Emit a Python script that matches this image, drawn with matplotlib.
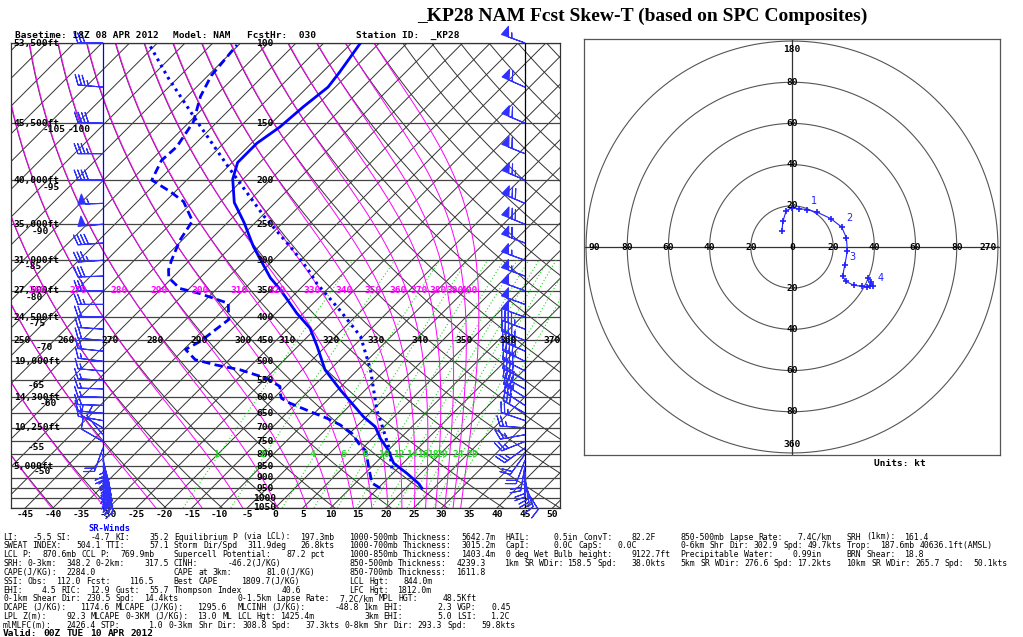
import re
import numpy as np
import matplotlib.pyplot as plt
from matplotlib.ticker import NullLocator

W, H = 1023, 637
fig = plt.figure(figsize=(W / 100, H / 100), dpi=100)

# ---- data ----
temp_p = [950, 927, 881, 837, 780, 738, 696, 662, 578, 522, 464, 423, 392, 348, 328,
          280, 248, 224, 199, 183, 175, 166, 153, 138, 125, 116, 100]
temp_t = [22.9, 21.4, 17.5, 13.3, 9.7, 6.4, 3.4, -0.5, -9.5, -15.9, -21.5, -26.1, -31.2,
          -38.4, -42.3, -51.0, -57.0, -62.4, -66.9, -69.0, -69.0, -69.0, -67.8, -67.2,
          -66.3, -66.9, -68.4]

dew_p = [950, 926, 866, 787, 757, 720, 690, 667, 645, 618, 603, 587, 568, 545, 522, 509,
         496, 471, 452, 405, 373, 355, 346, 328, 315, 300, 271, 246, 223, 212, 200, 181,
         169, 149, 131, 118, 101]
dew_t = [15.4, 13.0, 10.1, 6.1, 3.4, 0.4, -3.2, -6.8, -11.0, -16.2, -18.6, -19.8, -21.0,
         -24.9, -31.2, -36.6, -41.1, -44.7, -43.5, -42.3, -45.3, -52.2, -56.7, -60.6,
         -62.1, -63.3, -65.4, -66.6, -71.7, -75.9, -81.3, -83.1, -82.8, -84.3, -87.6,
         -89.4, -90.3]

parcel_p = [859, 780, 708, 640, 522, 441, 386, 337, 315, 285, 240, 188, 148, 119, 100]
parcel_t = [13.9, 10.0, 5.5, 0.7, -7.7, -15.5, -24.0, -33.0, -36.9, -43.2, -54.6, -69.6,
            -84.0, -96.9, -106.6]

wind_p = [950, 925, 900, 875, 850, 825, 800, 775, 750, 725, 700, 675, 650, 625, 600, 575,
          550, 525, 500, 475, 450, 425, 400, 375, 350, 325, 300, 275, 250, 225, 200, 175,
          150, 125, 100]
wind_dir = [148, 161, 171, 180, 190, 201, 216, 234, 248, 260, 274, 289, 300, 303, 302, 299,
            298, 297, 296, 294, 292, 291, 290, 290, 290, 290, 290, 291, 292, 293, 293, 292,
            293, 294, 290]
wind_spd = [9, 13, 18, 19, 19, 19, 21, 23, 26, 27, 27, 27, 28, 31, 35, 39, 41, 42, 44, 44,
            45, 46, 48, 50, 52, 55, 57, 62, 68, 72, 65, 58, 62, 60, 55]
sr_dir = [155, 157, 158, 160, 162, 165, 175, 200, 300, 320, 300, 280, 275, 272, 272, 272,
          273, 275, 277, 276, 275, 274, 272, 270, 270, 268, 266, 266, 265, 268, 270, 270,
          272, 275, 270]
sr_spd = [40, 39, 38, 36, 33, 30, 25, 18, 10, 12, 12, 15, 15, 16, 17, 17, 17, 17, 17, 18,
          18, 20, 22, 25, 28, 32, 35, 42, 52, 55, 40, 35, 38, 35, 30]

hodo_u = [-4.9, -4.4, -2.8, 0.0, 3.4, 7.1, 12.2, 18.8, 24.1, 26.4, 26.9, 25.6, 24.6, 26.1,
          30.0, 34.2, 36.5, 38.1, 39.4, 38.5, 37.1]
hodo_v = [7.8, 12.5, 17.7, 19.0, 18.6, 18.2, 16.9, 13.8, 9.7, 4.5, -1.9, -8.9, -14.1, -16.7,
          -18.6, -19.1, -19.6, -19.1, -19.0, -17.0, -14.9]
hodo_km = {5: '1', 8: '2', 11: '3', 18: '4'}

theta_lines = list(range(200, 480, 10))
theta_labels = list(range(250, 380, 10))
thetae_lines = list(range(220, 410, 10))
thetae_labels = list(range(250, 410, 10))
mix_lines = [1, 2, 4, 6, 8, 10, 12, 14, 16, 18, 20, 24, 28]

height_lbl = [(100, '53,500ft'), (150, '45,500ft'), (200, '40,000ft'), (250, '35,000ft'),
              (300, '31,000ft'), (350, '27,500ft'), (400, '24,500ft'), (500, '19,000ft'),
              (600, '14,300ft'), (700, '10,250ft'), (850, '5,000ft')]
iso_lbl = [('-105', 54, 130), ('-100', 79, 130), ('-95', 51, 187), ('-90', 40, 231),
           ('-85', 33, 266), ('-80', 34, 297), ('-75', 37, 323), ('-70', 44, 347),
           ('-65', 36, 386), ('-60', 48, 403), ('-55', 36, 447), ('-50', 42, 472)]

# ---- skew-T geometry ----
P_BOT, P_TOP = 1050.0, 100.0
T_LEFT, T_RIGHT = -47.57, 51.35
SKEW = 35.64


def skew(t, p):
    return np.asarray(t, float) + SKEW * np.log(P_BOT / np.asarray(p, float))


def es(tc):
    return 6.112 * np.exp(17.67 * tc / (tc + 243.5))


def theta_e_sat(tc, p):
    tk = tc + 273.15
    e = np.minimum(es(tc), 0.5 * p)
    r = 622.0 * e / (p - e)
    return tk * (1000.0 / p) ** (0.2854 * (1 - 0.28e-3 * r)) * \
        np.exp((3.376 / tk - 0.00254) * r * (1 + 0.81e-3 * r))


def moist_t(the, p):
    lo = np.full_like(p, -170.0)
    hi = np.full_like(p, 60.0)
    for _ in range(60):
        mid = 0.5 * (lo + hi)
        up = theta_e_sat(mid, p) > the
        hi = np.where(up, mid, hi)
        lo = np.where(up, lo, mid)
    return 0.5 * (lo + hi)


def mix_td(w, p):
    e = w * p / (622.0 + w)
    a = np.log(e / 6.112)
    return 243.5 * a / (17.67 - a)


ax = fig.add_axes([11 / W, 1 - 508 / H, 549 / W, 465 / H])
ax.set_yscale('log')
ax.set_ylim(P_BOT, P_TOP)
ax.set_xlim(T_LEFT, T_RIGHT)
ax.yaxis.set_major_locator(NullLocator())
ax.yaxis.set_minor_locator(NullLocator())
for s in ax.spines.values():
    s.set_linewidth(0.9)
    s.set_color('#333333')

pp = np.geomspace(P_BOT, P_TOP, 300)
gk = dict(lw=0.7, color='#333333', zorder=1)
for t in range(-160, 55, 5):
    ax.plot(skew([t, t], [P_BOT, P_TOP]), [P_BOT, P_TOP], **gk)
for th in theta_lines:
    ax.plot(skew(th * (pp / 1000.0) ** 0.2857 - 273.15, pp), pp, **gk)
for the in thetae_lines:
    ax.plot(skew(moist_t(the, pp), pp), pp, color='#ff00ff', lw=0.7, zorder=2)
pm = np.geomspace(P_BOT, 300, 100)
for w in mix_lines:
    ax.plot(skew(mix_td(w, pm), pm), pm, color='#22dd22', lw=0.8,
            ls=(0, (1, 2)), zorder=2)
for p in range(100, 1051, 50):
    ax.axhline(p, color='#444444', lw=0.9, zorder=1)

ax.axvline(45.04, color='k', lw=0.9, zorder=3)
ax.plot([-31.0, -31.0], [P_BOT * 1.005, P_TOP], color='#0000ff', lw=0.9,
        clip_on=False, zorder=3)

# profiles
ax.plot(skew(temp_t, temp_p), temp_p, color='#0000ff', lw=2.0, zorder=5)
ax.plot(skew(dew_t, dew_p), dew_p, color='#0000ff', lw=2.0, ls=(0, (3, 1.6)), zorder=5)
ax.plot(skew(parcel_t, parcel_p), parcel_p, color='#0000ff', lw=2.2,
        ls=(0, (0.9, 1.4)), zorder=5)

# wind barbs
bk = dict(length=6.0, lw=0.8, color='#3030ff', clip_on=False, zorder=6,
          sizes=dict(emptybarb=0.0, height=0.4, spacing=0.14, width=0.3))
wd = np.radians(wind_dir)
u = -np.array(wind_spd) * np.sin(wd)
v = -np.array(wind_spd) * np.cos(wd)
ax.barbs(np.full(len(wind_p), 45.04), wind_p, u, v, **bk)
sd = np.radians(sr_dir)
su = -np.array(sr_spd) * np.sin(sd)
sv = -np.array(sr_spd) * np.cos(sd)
ax.barbs(np.full(len(wind_p), -31.0), wind_p, su, sv, **bk)

# labels inside skew-T
mono = 'DejaVu Sans Mono'
lk = dict(family=mono, fontsize=6.8, fontweight='bold', ha='center', va='center',
          zorder=7)
tr_p = ax.get_yaxis_transform()
for p in range(100, 1051, 50):
    ax.text(0.4627, p, str(p), transform=tr_p, **lk)
for p, s in height_lbl:
    ax.text(0.005, p, s, transform=tr_p, family=mono, fontsize=6.8, fontweight='bold',
            ha='left', va='center', zorder=7)
for th in theta_labels:
    x = skew(th * 0.45 ** 0.2857 - 273.15, 450) - 1.6
    ax.text(x, 450, str(th), **lk)
for the in thetae_labels:
    x = skew(moist_t(the, np.array([350.0]))[0], 350) - 1.6
    if x > T_LEFT + 1:
        ax.text(x, 350, str(the), color='#ff00ff', **lk)
for w in mix_lines:
    x = skew(mix_td(w, 800.0), 800) - 0.6
    ax.text(x, 800, str(w), color='#22dd22', **lk)
for s, xp, yp in iso_lbl:
    fig.text(xp / W, 1 - yp / H, s, family=mono, fontsize=6.8, fontweight='bold',
             ha='center', va='center')

ax.set_xticks(range(-45, 55, 5))
ax.set_xticklabels([str(t) for t in range(-45, 55, 5)], family=mono, fontsize=6.8,
                   fontweight='bold')
ax.tick_params(axis='x', length=0, pad=1.5)

# ---- hodograph ----
hx = fig.add_axes([584 / W, 1 - 455 / H, 416 / W, 416 / H])
hx.set_xlim(-101, 101)
hx.set_ylim(-101, 101)
hx.set_xticks([])
hx.set_yticks([])
for s in hx.spines.values():
    s.set_color('#555555')
    s.set_linewidth(0.9)
ang = np.linspace(0, 2 * np.pi, 360)
for r in range(20, 101, 20):
    hx.plot(r * np.cos(ang), r * np.sin(ang), color='#555555', lw=0.8)
hx.axhline(0, color='#333333', lw=0.9)
hx.axvline(0, color='#333333', lw=0.9)
hk = dict(family=mono, fontsize=6.8, fontweight='bold', ha='center', va='center')
for r in (20, 40, 60, 80):
    hx.text(r, 0, str(r), **hk)
    hx.text(-r, 0, str(r), **hk)
    hx.text(0, r, str(r), **hk)
    hx.text(0, -r, str(r), **hk)
hx.text(0, 0, '0', **hk)
hx.text(-96, 0, '90', **hk)
hx.text(95, 0, '270', **hk)
hx.text(0, 96, '180', **hk)
hx.text(0, -96, '360', **hk)
hx.plot(hodo_u, hodo_v, color='#2020ff', lw=0.8, marker='+', ms=4, mew=1.2)
for i, s in hodo_km.items():
    hx.annotate(s, (hodo_u[i], hodo_v[i]), xytext=(3, 4), textcoords='offset points',
                color='#2020ff', fontsize=7, family='DejaVu Sans')
fig.text(900 / W, 1 - 463 / H, 'Units: kt', family=mono, fontsize=6.8,
         fontweight='bold', ha='center', va='center')

# ---- titles ----
fig.text(642 / W, 1 - 16 / H, '_KP28 NAM Fcst Skew-T (based on SPC Composites)',
         family='Liberation Serif', fontsize=14, fontweight='bold',
         ha='center', va='center')
for x, s in [(15, 'Basetime: 18Z 08 APR 2012'), (173, 'Model: NAM'),
             (247, 'FcstHr:  030'), (356, 'Station ID:  _KP28')]:
    fig.text(x / W, 1 - 35 / H, s, family=mono, fontsize=6.8, fontweight='bold',
             ha='left', va='center')
fig.text(109 / W, 1 - 528.5 / H, 'SR-Winds', family=mono, fontsize=6.3,
         fontweight='bold', color='#0000ff', ha='center', va='center')

# ---- parameter text block (fixed-width columns, one text per word) ----
left_lines = [
    "LI:   -5.5 SI:    -4.7 KI:    35.2 Equilibrium P (via LCL):  197.3mb   1000-500mb Thickness:  5642.7m",
    "SWEAT INDEX:   504.1 TTI:     57.1 Storm Dir/Spd  311.9deg   26.8kts   1000-700mb Thickness:  3015.2m",
    "LCL P:  870.6mb CCL P:  769.9mb    Supercell Potential:   87.2 pct     1000-850mb Thickness:  1403.4m",
    "SRH: 0-3km:  348.2 0-2km:    317.5 CINH:      -46.2(J/KG)              850-500mb Thickness:  4239.3",
    "CAPE(J/KG):  2284.0                CAPE at 3km:       81.0(J/KG)       850-700mb Thickness:  1611.8",
    "SSI: Obs:  112.0 Fcst:    116.5    Best CAPE     1809.7(J/KG)          LCL Hgt:   844.0m",
    "EHI:    4.5 RIC:  12.9 Gust:  55.7 Thompson Index        40.6          LFC Hgt:  1812.0m",
    "0-1km Shear Dir: 230.5 Spd:  14.4kts            0-1.5km Lapse Rate:  7.2C/km MPL HGT:     48.5Kft",
    "DCAPE (J/KG):   1174.6 MLCAPE (J/KG):   1295.6  MLCINH (J/KG):      -48.8 1km EHI:       2.3 VGP:   0.45",
    "LPL Z(m):    92.3 MLCAPE 0-3KM (J/KG):  13.0 ML LCL Hgt: 1425.4m          3km EHI:       5.0 LSI:   1.2C",
    "mlMLFC(m):   2426.4 STP:      1.0 0-3km Shr Dir: 308.8 Spd:   37.3kts 0-8km Shr Dir: 293.3 Spd:   59.8kts",
]
right_lines = [
    "HAIL:     0.5in ConvT:    82.2F     850-500mb Lapse Rate:   7.4C/km   SRH (1km):  161.4",
    "CapI:     0.0C CapS:   0.0C         0-6km Shr Dir: 302.9 Spd: 49.7kts Trop:  187.6mb 40636.1ft(AMSL)",
    "0 deg Wet Bulb height:    9122.7ft  Precipitable Water:    0.99in     BRN Shear:  18.8",
    "1km SR WDir: 158.5 Spd:   38.0kts   5km SR WDir: 276.6 Spd: 17.2kts   10km SR WDir: 265.7 Spd:  50.1kts",
]
CW = 4.88
tk = dict(family=mono, fontsize=5.84, ha='left', va='center')
for x0, lines in ((3, left_lines), (505, right_lines)):
    for i, s in enumerate(lines):
        y = 537 + 8.85 * i
        for m in re.finditer(r'\S+', s):
            fig.text((x0 + m.start() * CW) / W, 1 - y / H, m.group(), **tk)
for m in re.finditer(r'\S+', 'Valid: 00Z TUE 10 APR 2012'):
    fig.text((3 + m.start() * 5.8) / W, 1 - 633 / H, m.group(), family=mono,
             fontsize=6.8, fontweight='bold', ha='left', va='center')

fig.savefig('out.png', dpi=100)
